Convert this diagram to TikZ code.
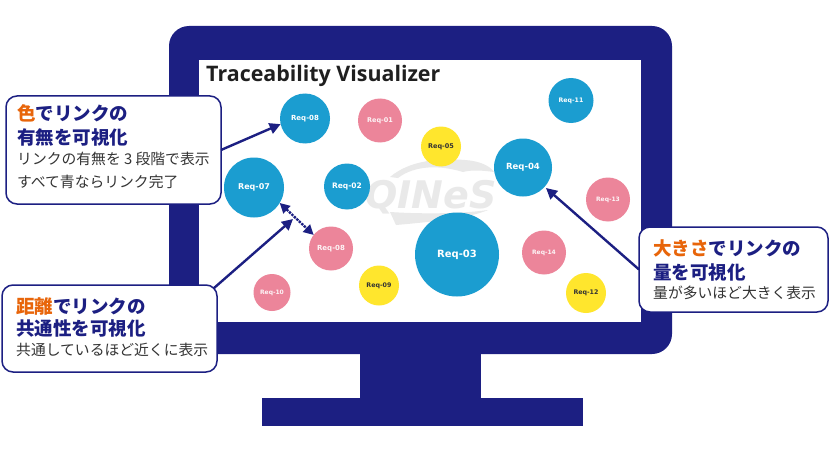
\documentclass[tikz,border=0pt]{standalone}
\usepackage{fontspec}
\setmainfont{DejaVu Sans}
\newfontfamily\jp{Noto Sans CJK JP}
\newfontfamily\titlefont{Open Sans}
\newfontfamily\markfont{DejaVu Sans}
\usetikzlibrary{arrows.meta}
\definecolor{navy}{HTML}{1C1F82}
\definecolor{orng}{HTML}{E8650A}
\definecolor{ballblue}{HTML}{1B9DD0}
\definecolor{ballpink}{HTML}{EC859A}
\definecolor{ballyel}{HTML}{FFE62D}
\definecolor{ink}{HTML}{333333}
\definecolor{wm}{HTML}{E9E9E9}
\tikzset{
  ball/.style={circle,inner sep=0pt,outer sep=0pt,font=\bfseries\fontsize{#1}{#1}\selectfont},
  bluereq/.style={ball=#1,fill=ballblue,text=white},
  pinkreq/.style={ball=#1,fill=ballpink,text=white!92!ballpink},
  yelreq/.style={ball=#1,fill=ballyel,text=ink},
  callout/.style={draw=navy,line width=1.5pt,fill=white,rounded corners=11pt,inner sep=0pt,outer sep=0pt},
  headline/.style={anchor=base west,inner sep=0pt,text=navy,font=\jp\bfseries\fontsize{18.5}{18.5}\selectfont},
  bodyline/.style={anchor=base west,inner sep=0pt,text=ink,font=\jp\fontsize{14.8}{14.8}\selectfont},
  pointer/.style={navy,line width=2.4pt,-{Triangle[length=11pt,width=11pt]}},
  linkdist/.style={navy,line width=2.4pt,densely dotted,{Triangle[length=10pt,width=10pt]}-{Triangle[length=10pt,width=10pt]}},
}
\newcommand{\hl}[1]{\textcolor{orng}{#1}}
\begin{document}
\begin{tikzpicture}[x=1pt,y=-1pt]
\useasboundingbox (0,0) rectangle (829,476);
% monitor
\fill[navy] (360,350) rectangle (481,399);
\fill[navy] (262,398) rectangle (583,426);
\fill[navy,rounded corners=20pt] (169,26) rectangle (672,354);
\fill[white] (199,60) rectangle (641,322);
\node[anchor=base west,inner sep=0pt,text=black!88,font=\titlefont\bfseries\fontsize{21.4}{21.4}\selectfont] (title) at (206,82) {Traceability Visualizer};
% watermark
\fill[wm] (390,177) .. controls (410,160) and (440,158) .. (465,160) .. controls (480,161) and (490,166) .. (494,172)
  .. controls (480,170) and (470,170) .. (463,172) .. controls (440,165) and (415,165) .. (398,178) -- cycle;
\fill[wm] (390,212) -- (396,225) .. controls (430,222) and (470,218) .. (488,210) .. controls (460,214) and (420,214) .. (390,212) -- cycle;
\node[inner sep=0pt,text=wm,font=\markfont\bfseries\itshape\fontsize{38}{38}\selectfont] (mark) at (431,197) {QINeS};
% requirement circles
\node[bluereq=7,minimum size=50pt] (r08) at (305,118.5) {Req-08};
\node[pinkreq=6.5,minimum size=44pt] (r01) at (380,120.5) {Req-01};
\node[yelreq=6.5,minimum size=40pt] (r05) at (441,146.5) {Req-05};
\node[bluereq=6.2,minimum size=45pt] (r11) at (571,100.5) {Req-11};
\node[bluereq=8.5,minimum size=58pt] (r04) at (523,167.5) {Req-04};
\node[bluereq=8,minimum size=60pt] (r07) at (254,187.5) {Req-07};
\node[bluereq=7.5,minimum size=46pt] (r02) at (347,186.5) {Req-02};
\node[pinkreq=6,minimum size=44pt] (r13) at (608,199.5) {Req-13};
\node[pinkreq=7,minimum size=44pt] (r06) at (331,248.5) {Req-08};
\node[bluereq=10,minimum size=84pt] (r03) at (457,254.5) {Req-03};
\node[pinkreq=6,minimum size=44pt] (r14) at (544,252.5) {Req-14};
\node[yelreq=6.3,minimum size=40pt] (r09) at (379,285.5) {Req-09};
\node[yelreq=6.3,minimum size=40pt] (r12) at (586,293) {Req-12};
\node[pinkreq=6,minimum size=37pt] (r10) at (272,292.5) {Req-10};
% callout boxes
\node[callout,minimum width=215pt,minimum height=108pt] (box1) at (113.5,150) {};
\node[callout,minimum width=215pt,minimum height=87pt] (box2) at (109.5,328.5) {};
\node[callout,minimum width=189pt,minimum height=85pt] (box3) at (733.5,269.5) {};
% connectors
\coordinate (distTip) at (293,219);
\coordinate (sizeTip) at (546,188);
\draw[pointer] (box1.east) -- (r08.193);
\draw[pointer] ([xshift=-3.2pt,yshift=-3.2pt]box2.north east) -- (distTip);
\draw[pointer] (box3.west) -- (sizeTip);
\draw[linkdist] (r07.-31) -- (r06.142);
% callout texts
\node[headline] (t11) at (17,121) {\hl{色}でリンクの};
\node[headline] (t12) at (17,144.5) {有無を可視化};
\node[bodyline] (t13) at (17,164.5) {リンクの有無を 3 段階で表示};
\node[bodyline] (t14) at (17,187.5) {すべて青ならリンク完了};
\node[headline] (t21) at (16,313) {\hl{距離}でリンクの};
\node[headline] (t22) at (16,335) {共通性を可視化};
\node[bodyline] (t23) at (16,355.5) {共通しているほど近くに表示};
\node[headline] (t31) at (653,255.5) {\hl{大きさ}でリンクの};
\node[headline] (t32) at (653,279) {量を可視化};
\node[bodyline] (t33) at (653,298.5) {量が多いほど大きく表示};
\end{tikzpicture}
\end{document}
